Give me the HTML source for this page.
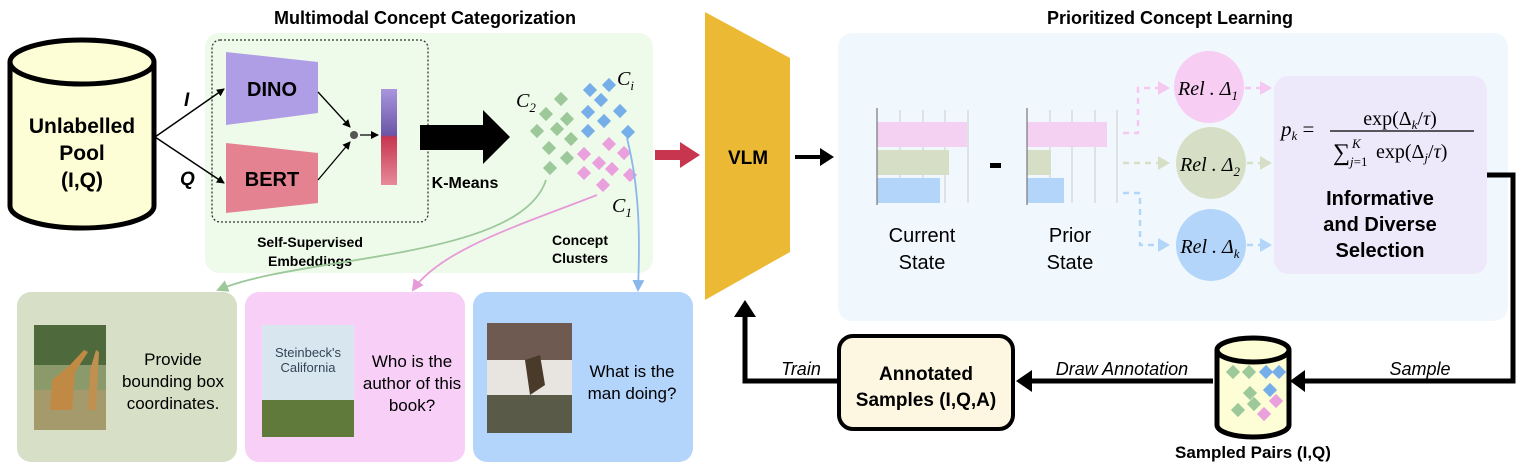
<!DOCTYPE html>
<html><head><meta charset="utf-8"><style>
html,body{margin:0;padding:0;background:#fff;}
svg{display:block;font-family:"Liberation Sans",sans-serif;}
.b{font-weight:bold;}
.m{font-family:"Liberation Serif",serif;font-style:italic;}
</style></head><body>
<svg width="1519" height="468" viewBox="0 0 1519 468" xmlns="http://www.w3.org/2000/svg">
<defs>
<marker id="ah" markerWidth="8" markerHeight="8" refX="7" refY="4" orient="auto" markerUnits="userSpaceOnUse"><path d="M0,0 L8,4 L0,8 z" fill="#000"/></marker>
<marker id="ahg" markerWidth="12" markerHeight="12" refX="10" refY="6" orient="auto" markerUnits="userSpaceOnUse"><path d="M0,0 L12,6 L0,12 z" fill="#9cc89a"/></marker>
<marker id="ahp" markerWidth="12" markerHeight="12" refX="10" refY="6" orient="auto" markerUnits="userSpaceOnUse"><path d="M0,0 L12,6 L0,12 z" fill="#e79ad8"/></marker>
<marker id="ahb" markerWidth="12" markerHeight="12" refX="10" refY="6" orient="auto" markerUnits="userSpaceOnUse"><path d="M0,0 L12,6 L0,12 z" fill="#8ab8ec"/></marker>
<linearGradient id="bar" x1="0" y1="0" x2="0" y2="1">
<stop offset="0" stop-color="#a996dd"/><stop offset="0.48" stop-color="#6b55a8"/><stop offset="0.5" stop-color="#c8354f"/><stop offset="1" stop-color="#e68a9a"/></linearGradient>
</defs>

<text x="425" y="24" text-anchor="middle" class="b" font-size="18">Multimodal Concept Categorization</text>
<text x="1170" y="24" text-anchor="middle" class="b" font-size="18">Prioritized Concept Learning</text>

<rect x="205" y="33" width="448" height="240" rx="14" fill="#effbea"/>
<rect x="212" y="40" width="216" height="182" rx="8" fill="none" stroke="#333" stroke-width="1.3" stroke-dasharray="2,2"/>

<path d="M10,62 L10,206 A72,22 0 0 0 154,206 L154,62" fill="#fdfdd6" stroke="#000" stroke-width="5"/>
<ellipse cx="82" cy="62" rx="72" ry="22" fill="#fdfdd6" stroke="#000" stroke-width="5"/>
<text x="82" y="133" text-anchor="middle" class="b" font-size="21">Unlabelled</text>
<text x="82" y="160" text-anchor="middle" class="b" font-size="21">Pool</text>
<text x="82" y="187" text-anchor="middle" class="b" font-size="21">(I,Q)</text>

<line x1="155" y1="137" x2="224" y2="89" stroke="#000" stroke-width="1.5" marker-end="url(#ah)"/>
<line x1="155" y1="137" x2="224" y2="183" stroke="#000" stroke-width="1.5" marker-end="url(#ah)"/>
<text x="184" y="106" class="b" font-size="19" font-style="italic">I</text>
<text x="180" y="185" class="b" font-size="19" font-style="italic">Q</text>

<polygon points="226,52 318,62 318,113 226,125" fill="#af9de6"/>
<polygon points="226,143 318,153 318,203 226,213" fill="#e48292"/>
<text x="272" y="96" text-anchor="middle" class="b" font-size="20">DINO</text>
<text x="272" y="186" text-anchor="middle" class="b" font-size="20">BERT</text>
<line x1="318" y1="92" x2="350" y2="127" stroke="#000" stroke-width="1.3" marker-end="url(#ah)"/>
<line x1="318" y1="180" x2="350" y2="142" stroke="#000" stroke-width="1.3" marker-end="url(#ah)"/>
<circle cx="354" cy="135" r="4" fill="#555"/>
<line x1="360" y1="135" x2="378" y2="135" stroke="#000" stroke-width="1.3" marker-end="url(#ah)"/>
<rect x="381" y="89" width="16" height="96" fill="url(#bar)"/>
<text x="310" y="247" text-anchor="middle" class="b" font-size="14">Self-Supervised</text>
<text x="310" y="266" text-anchor="middle" class="b" font-size="14">Embeddings</text>

<polygon points="420,125 483,125 483,110 510,137 483,164 483,150 420,150" fill="#000"/>
<text x="465" y="188" text-anchor="middle" class="b" font-size="16">K-Means</text>

<g>
<g fill="#9cc89a">
<rect x="-5" y="-5" width="10" height="10" transform="translate(561,99) rotate(45)"/>
<rect x="-5" y="-5" width="10" height="10" transform="translate(546,114) rotate(45)"/>
<rect x="-5" y="-5" width="10" height="10" transform="translate(567,119) rotate(45)"/>
<rect x="-5" y="-5" width="10" height="10" transform="translate(537,131) rotate(45)"/>
<rect x="-5" y="-5" width="10" height="10" transform="translate(557,129) rotate(45)"/>
<rect x="-5" y="-5" width="10" height="10" transform="translate(571,139) rotate(45)"/>
<rect x="-5" y="-5" width="10" height="10" transform="translate(549,148) rotate(45)"/>
<rect x="-5" y="-5" width="10" height="10" transform="translate(567,158) rotate(45)"/>
<rect x="-5" y="-5" width="10" height="10" transform="translate(550,168) rotate(45)"/>
</g>
<g fill="#75aee8">
<rect x="-5" y="-5" width="10" height="10" transform="translate(590,90) rotate(45)"/>
<rect x="-5" y="-5" width="10" height="10" transform="translate(609,85) rotate(45)"/>
<rect x="-5" y="-5" width="10" height="10" transform="translate(601,100) rotate(45)"/>
<rect x="-5" y="-5" width="10" height="10" transform="translate(588,112) rotate(45)"/>
<rect x="-5" y="-5" width="10" height="10" transform="translate(620,111) rotate(45)"/>
<rect x="-5" y="-5" width="10" height="10" transform="translate(604,121) rotate(45)"/>
<rect x="-5" y="-5" width="10" height="10" transform="translate(588,131) rotate(45)"/>
<rect x="-5" y="-5" width="10" height="10" transform="translate(628,132) rotate(45)"/>
</g>
<g fill="#e9a0dc">
<rect x="-5" y="-5" width="10" height="10" transform="translate(609,144) rotate(45)"/>
<rect x="-5" y="-5" width="10" height="10" transform="translate(584,154) rotate(45)"/>
<rect x="-5" y="-5" width="10" height="10" transform="translate(624,153) rotate(45)"/>
<rect x="-5" y="-5" width="10" height="10" transform="translate(599,163) rotate(45)"/>
<rect x="-5" y="-5" width="10" height="10" transform="translate(612,169) rotate(45)"/>
<rect x="-5" y="-5" width="10" height="10" transform="translate(584,173) rotate(45)"/>
<rect x="-5" y="-5" width="10" height="10" transform="translate(630,175) rotate(45)"/>
<rect x="-5" y="-5" width="10" height="10" transform="translate(603,185) rotate(45)"/>
</g>
</g>
<text x="516" y="107" class="m" font-size="20">C<tspan font-size="13" dy="5">2</tspan></text>
<text x="617" y="85" class="m" font-size="20">C<tspan font-size="13" dy="5">i</tspan></text>
<text x="612" y="212" class="m" font-size="20">C<tspan font-size="13" dy="5">1</tspan></text>
<text x="580" y="245" text-anchor="middle" class="b" font-size="14">Concept</text>
<text x="580" y="263" text-anchor="middle" class="b" font-size="14">Clusters</text>

<path d="M546,180 C520,260 300,255 218,290" fill="none" stroke="#9cc89a" stroke-width="1.8" marker-end="url(#ahg)"/>
<path d="M597,195 C520,225 440,250 413,290" fill="none" stroke="#e79ad8" stroke-width="1.8" marker-end="url(#ahp)"/>
<path d="M627,138 C640,190 640,240 638,290" fill="none" stroke="#8ab8ec" stroke-width="1.8" marker-end="url(#ahb)"/>

<rect x="17" y="292" width="220" height="170" rx="14" fill="#d7dfc6"/>
<rect x="245" y="292" width="220" height="170" rx="14" fill="#f7cff7"/>
<rect x="473" y="292" width="220" height="170" rx="14" fill="#b3d4fb"/>
<rect x="34" y="325" width="72" height="105" fill="#8a9a6a"/>
<rect x="34" y="325" width="72" height="40" fill="#4e6a3c"/>
<rect x="34" y="390" width="72" height="40" fill="#a59a6c"/>
<path d="M50,410 L52,380 L70,365 L84,350 L88,352 L75,372 L72,410 Z" fill="#c08a45"/>
<path d="M88,410 L90,370 L96,350 L99,352 L96,410 Z" fill="#c09050"/>
<rect x="262" y="325" width="92" height="112" fill="#d8e6f0"/>
<rect x="262" y="400" width="92" height="37" fill="#5f7a3a"/>
<text x="308" y="357" text-anchor="middle" font-size="13" fill="#345">Steinbeck's</text>
<text x="308" y="372" text-anchor="middle" font-size="13" fill="#345">California</text>
<rect x="487" y="323" width="85" height="110" fill="#6e5a50"/>
<rect x="487" y="360" width="85" height="35" fill="#e8e4e0"/>
<rect x="487" y="395" width="85" height="38" fill="#5a5a48"/>
<path d="M525,360 L540,355 L545,385 L530,395 Z" fill="#4a3a2a"/>
<text x="173" y="365" text-anchor="middle" font-size="17">Provide</text>
<text x="173" y="387" text-anchor="middle" font-size="17">bounding box</text>
<text x="173" y="409" text-anchor="middle" font-size="17">coordinates.</text>
<text x="412" y="367" text-anchor="middle" font-size="17">Who is the</text>
<text x="412" y="389" text-anchor="middle" font-size="17">author of this</text>
<text x="412" y="411" text-anchor="middle" font-size="17">book?</text>
<text x="632" y="377" text-anchor="middle" font-size="17">What is the</text>
<text x="632" y="399" text-anchor="middle" font-size="17">man doing?</text>

<polygon points="655,150 680,150 680,142 700,155 680,168 680,160 655,160" fill="#c8354f"/>

<polygon points="705,12 790,58 790,252 705,300" fill="#ecb935"/>
<text x="748" y="164" text-anchor="middle" class="b" font-size="19">VLM</text>
<line x1="795" y1="157" x2="822" y2="157" stroke="#000" stroke-width="4"/>
<polygon points="820,148 834,157 820,166" fill="#000"/>

<rect x="838" y="33" width="670" height="288" rx="14" fill="#f1f8fd"/>

<g stroke="#ccc" stroke-width="1">
<line x1="900" y1="110" x2="900" y2="203"/><line x1="923" y1="110" x2="923" y2="203"/><line x1="945" y1="110" x2="945" y2="203"/><line x1="968" y1="110" x2="968" y2="203"/>
<line x1="1050" y1="110" x2="1050" y2="203"/><line x1="1072" y1="110" x2="1072" y2="203"/><line x1="1095" y1="110" x2="1095" y2="203"/><line x1="1117" y1="110" x2="1117" y2="203"/>
</g>
<rect x="877" y="122" width="90" height="25" fill="#f4d0f3"/>
<rect x="877" y="150" width="72" height="25" fill="#d6dfc5"/>
<rect x="877" y="178" width="63" height="25" fill="#b3d5fa"/>
<line x1="877" y1="108" x2="877" y2="205" stroke="#777" stroke-width="1.2"/>
<rect x="1027" y="122" width="80" height="25" fill="#f4d0f3"/>
<rect x="1027" y="150" width="24" height="25" fill="#d6dfc5"/>
<rect x="1027" y="178" width="37" height="25" fill="#b3d5fa"/>
<line x1="1027" y1="108" x2="1027" y2="205" stroke="#777" stroke-width="1.2"/>
<rect x="990" y="163" width="11" height="5" fill="#000"/>
<text x="922" y="242" text-anchor="middle" font-size="20">Current</text>
<text x="922" y="269" text-anchor="middle" font-size="20">State</text>
<text x="1070" y="242" text-anchor="middle" font-size="20">Prior</text>
<text x="1070" y="269" text-anchor="middle" font-size="20">State</text>

<g fill="none" stroke-width="2.5" stroke-dasharray="6,5">
<path d="M1123,133 L1138,133 L1138,88 L1160,88" stroke="#f4c8f0"/>
<path d="M1123,163 L1160,163" stroke="#d6dfc5"/>
<path d="M1123,193 L1140,193 L1140,245 L1160,245" stroke="#b3d5fa"/>
<path d="M1245,88 L1262,88" stroke="#f4c8f0"/>
<path d="M1247,163 L1262,163" stroke="#d6dfc5"/>
<path d="M1247,245 L1262,245" stroke="#b3d5fa"/>
</g>
<polygon points="1158,81 1170,88 1158,95" fill="#f4c8f0"/>
<polygon points="1158,156 1170,163 1158,170" fill="#d6dfc5"/>
<polygon points="1158,238 1170,245 1158,252" fill="#b3d5fa"/>
<polygon points="1260,81 1272,88 1260,95" fill="#f4c8f0"/>
<polygon points="1260,156 1272,163 1260,170" fill="#d6dfc5"/>
<polygon points="1260,238 1272,245 1260,252" fill="#b3d5fa"/>

<ellipse cx="1209" cy="87" rx="35" ry="36" fill="#f7cdf3"/>
<ellipse cx="1211" cy="163" rx="35" ry="36" fill="#d6dfc5"/>
<ellipse cx="1211" cy="245" rx="35" ry="36" fill="#b3d5fa"/>
<text x="1208" y="95" text-anchor="middle" class="m" font-size="20">Rel . Δ<tspan font-size="13" dy="5">1</tspan></text>
<text x="1210" y="171" text-anchor="middle" class="m" font-size="20">Rel . Δ<tspan font-size="13" dy="5">2</tspan></text>
<text x="1210" y="253" text-anchor="middle" class="m" font-size="20">Rel . Δ<tspan font-size="13" dy="5">k</tspan></text>

<rect x="1274" y="76" width="213" height="198" rx="14" fill="#ede9fa"/>
<text x="1281" y="136" class="m" font-size="21">p<tspan font-size="13" dy="4">k</tspan><tspan dy="-4" font-style="normal"> =</tspan></text>
<text x="1400" y="125" text-anchor="middle" font-family="Liberation Serif,serif" font-size="20">exp(Δ<tspan font-size="13" dy="4" font-style="italic">k</tspan><tspan dy="-4">/</tspan><tspan font-style="italic">τ</tspan>)</text>
<line x1="1330" y1="131" x2="1474" y2="131" stroke="#000" stroke-width="1.3"/>
<text x="1333" y="160" font-family="Liberation Serif,serif" font-size="24">∑</text>
<text x="1352" y="148" font-family="Liberation Serif,serif" font-size="13" font-style="italic">K</text>
<text x="1350" y="166" font-family="Liberation Serif,serif" font-size="13"><tspan font-style="italic">j</tspan>=1</text>
<text x="1376" y="158" font-family="Liberation Serif,serif" font-size="20">exp(Δ<tspan font-size="13" dy="4" font-style="italic">j</tspan><tspan dy="-4">/</tspan><tspan font-style="italic">τ</tspan>)</text>
<text x="1380" y="205" text-anchor="middle" class="b" font-size="20">Informative</text>
<text x="1380" y="231" text-anchor="middle" class="b" font-size="20">and Diverse</text>
<text x="1380" y="257" text-anchor="middle" class="b" font-size="20">Selection</text>

<path d="M1487,175 L1513,175 L1513,381 L1300,381" fill="none" stroke="#000" stroke-width="5"/>
<polygon points="1305,370 1290,381 1305,392" fill="#000"/>
<text x="1420" y="375" text-anchor="middle" font-size="18" font-style="italic">Sample</text>

<path d="M1217,350 L1217,425 A36,12 0 0 0 1289,425 L1289,350" fill="#fdfdd6" stroke="#000" stroke-width="5"/>
<ellipse cx="1253" cy="350" rx="36" ry="12" fill="#fdfdd6" stroke="#000" stroke-width="5"/>
<rect x="-5" y="-5" width="10" height="10" fill="#9cc89a" transform="translate(1233,372) rotate(45)"/>
<rect x="-5" y="-5" width="10" height="10" fill="#9cc89a" transform="translate(1249,372) rotate(45)"/>
<rect x="-5" y="-5" width="10" height="10" fill="#75aee8" transform="translate(1266,372) rotate(45)"/>
<rect x="-5" y="-5" width="10" height="10" fill="#75aee8" transform="translate(1279,372) rotate(45)"/>
<rect x="-5" y="-5" width="10" height="10" fill="#9cc89a" transform="translate(1250,393) rotate(45)"/>
<rect x="-5" y="-5" width="10" height="10" fill="#75aee8" transform="translate(1270,390) rotate(45)"/>
<rect x="-5" y="-5" width="10" height="10" fill="#9cc89a" transform="translate(1238,410) rotate(45)"/>
<rect x="-5" y="-5" width="10" height="10" fill="#9cc89a" transform="translate(1254,404) rotate(45)"/>
<rect x="-5" y="-5" width="10" height="10" fill="#e9a0dc" transform="translate(1276,401) rotate(45)"/>
<rect x="-5" y="-5" width="10" height="10" fill="#e9a0dc" transform="translate(1264,414) rotate(45)"/>
<text x="1253" y="458" text-anchor="middle" class="b" font-size="17">Sampled Pairs (I,Q)</text>

<line x1="1213" y1="381" x2="1030" y2="381" stroke="#000" stroke-width="5"/>
<polygon points="1032,370 1016,381 1032,392" fill="#000"/>
<text x="1122" y="375" text-anchor="middle" font-size="18" font-style="italic">Draw Annotation</text>

<rect x="839" y="336" width="174" height="93" rx="14" fill="#fdf6e1" stroke="#000" stroke-width="4"/>
<text x="926" y="380" text-anchor="middle" class="b" font-size="19">Annotated</text>
<text x="926" y="406" text-anchor="middle" class="b" font-size="19">Samples (I,Q,A)</text>

<path d="M838,381 L745,381 L745,315" fill="none" stroke="#000" stroke-width="5"/>
<polygon points="734,317 745,300 756,317" fill="#000"/>
<text x="801" y="375" text-anchor="middle" font-size="18" font-style="italic">Train</text>
</svg>
</body></html>
